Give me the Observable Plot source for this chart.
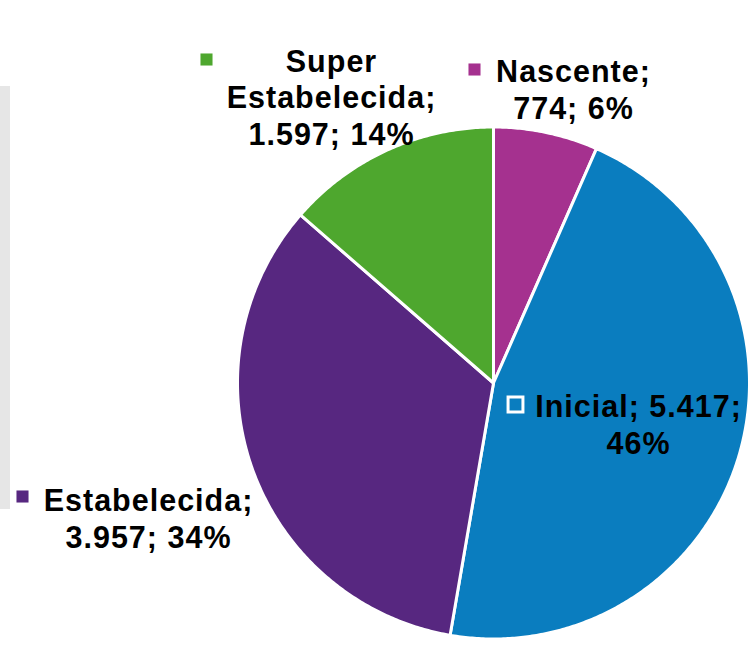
<!DOCTYPE html>
<html>
<head>
<meta charset="utf-8">
<script src="https://cdn.jsdelivr.net/npm/d3@7"></script>
<script src="https://cdn.jsdelivr.net/npm/@observablehq/plot@0.6"></script>
<style>
  html, body { margin: 0; padding: 0; background: #fff; }
  #chart svg { display: block; }
  #chart svg g.labels text { letter-spacing: 1px; }
</style>
</head>
<body>
<div id="chart"></div>
<script>
// ---- data ----
const categories = ["Nascente", "Inicial", "Estabelecida", "Super Estabelecida"];
const values = [774, 5417, 3957, 1597];
const valueText = ["774", "5.417", "3.957", "1.597"];
const percentText = ["6%", "46%", "34%", "14%"];
const colors = ["#A5318F", "#0A7DBF", "#572780", "#4EA72E"];

// ---- layout (pixels) ----
const W = 755, H = 652;
const CX = 493, CY = 382.5, R = 256;
const labelLayout = [
  {text: (c, v, p) => `${c};\n${v}; ${p}`, x: 573, y: 88, mx: 474, my: 69, marker: "fill"},
  {text: (c, v, p) => `${c}; ${v};\n${p}`, x: 638, y: 423, mx: 515, my: 404, marker: "outline"},
  {text: (c, v, p) => `${c};\n${v}; ${p}`, x: 148, y: 517, mx: 22, my: 496, marker: "fill"},
  {text: (c, v, p) => `${c.replace(" ", "\n")};\n${v}; ${p}`, x: 331, y: 96, mx: 206, my: 59, marker: "fill"}
];
const toX = (px) => (px - CX) / R;
const toY = (py) => (CY - py) / R;

const rows = categories.map((c, i) => ({category: c, value: values[i], color: colors[i], i}));
const arcs = d3.pie().sort(null).value(d => d.value)(rows);

// slice outlines in unit pie coordinates (y up, angle clockwise from 12 o'clock)
const slicePts = [];
for (const a of arcs) {
  const n = Math.max(2, Math.ceil((a.endAngle - a.startAngle) / (Math.PI / 360)));
  slicePts.push({category: a.data.category, x: 0, y: 0});
  for (let k = 0; k <= n; k++) {
    const t = a.startAngle + (a.endAngle - a.startAngle) * k / n;
    slicePts.push({category: a.data.category, x: Math.sin(t), y: Math.cos(t)});
  }
  slicePts.push({category: a.data.category, x: 0, y: 0});
}

const labels = rows.map((r, i) => {
  const L = labelLayout[i];
  return {
    category: r.category,
    text: L.text(r.category, valueText[i], percentText[i]),
    x: toX(L.x), y: toY(L.y), mx: toX(L.mx), my: toY(L.my), marker: L.marker
  };
});
const panel = [{x1: toX(0), x2: toX(10), y1: toY(86), y2: toY(509)}];

const colorScale = {domain: categories, range: colors};

const chart = Plot.plot({
  width: W, height: H,
  marginTop: 0, marginRight: 0, marginBottom: 0, marginLeft: 0,
  x: {domain: [-1, 1], range: [CX - R, CX + R], axis: null},
  y: {domain: [-1, 1], range: [CY + R, CY - R], axis: null},
  color: colorScale,
  style: {fontFamily: "'Liberation Sans', Arial, sans-serif", background: "#fff"},
  marks: [
    Plot.rect(panel, {x1: "x1", x2: "x2", y1: "y1", y2: "y2", fill: "#e6e6e6"}),
    Plot.line(slicePts, {x: "x", y: "y", z: "category", fill: "category", stroke: "#fff", strokeWidth: 3, strokeLinejoin: "round", curve: "linear"}),
    Plot.dot(labels.filter(d => d.marker === "fill"), {x: "mx", y: "my", symbol: "square", r: 6.8, fill: "category", stroke: "none"}),
    Plot.dot(labels.filter(d => d.marker === "outline"), {x: "mx", y: "my", symbol: "square", r: 8.4, fill: "none", stroke: "#fff", strokeWidth: 3}),
    Plot.text(labels, {x: "x", y: "y", text: "text", fill: "#000", fontSize: 30.5, fontWeight: "bold", lineHeight: 1.2, textAnchor: "middle", lineAnchor: "middle", className: "labels"})
  ]
});
document.getElementById("chart").appendChild(chart);
</script>
</body>
</html>
